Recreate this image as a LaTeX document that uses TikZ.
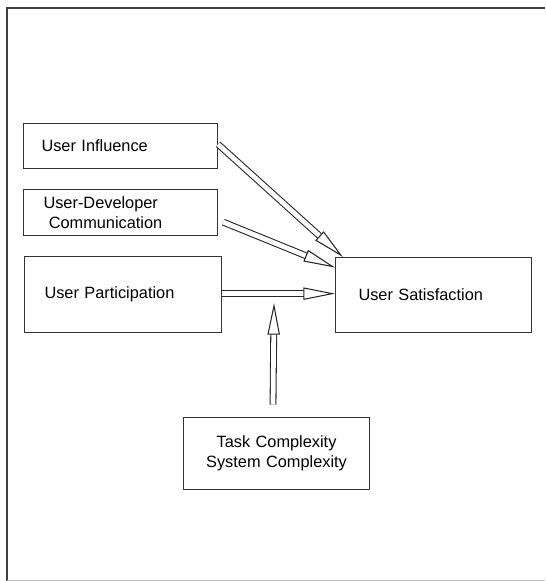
\documentclass[tikz,border=0pt]{standalone}
\usepackage{fontspec}
\setmainfont{Liberation Sans}
\usetikzlibrary{arrows.meta}

\begin{document}
\begin{tikzpicture}[x=0.02cm,y=-0.02cm,
	font=\fontsize{9.3}{11.5}\selectfont,
	factor/.style={draw=black!80,line width=0.6pt,anchor=north west,align=left,inner ysep=0pt},
	hollow/.style={draw=black!85,line width=0.6pt,double=white,double distance=2.7pt,
		-{Triangle[open,fill=white,length=18pt,width=7pt]}}]
  \useasboundingbox (0,0) rectangle (545,581);
  % page frame
  \draw[black!75,line width=0.7pt] (7,581) -- (7,8) -- (545,8);
  \draw[black!25,line width=0.5pt] (7,580) -- (545,580);

  % boxes
  \node[factor,minimum width=194*0.02cm,minimum height=45*0.02cm,
	text width=158*0.02cm,inner xsep=18*0.02cm] (inf) at (23,123) {User Influence};
  \node[factor,minimum width=194*0.02cm,minimum height=46*0.02cm,
	text width=154*0.02cm,inner xsep=20*0.02cm] (udc) at (23,189)
	{User-Developer\\\hspace*{3pt}Communication};
  \node[factor,minimum width=197*0.02cm,minimum height=76*0.02cm,
	text width=157*0.02cm,inner xsep=20*0.02cm] (part) at (24,256) {User Participation};
  \node[factor,minimum width=196*0.02cm,minimum height=75*0.02cm,
	text width=150*0.02cm,inner xsep=23*0.02cm] (sat) at (335,257) {User Satisfaction};
  \node[factor,align=center,minimum width=186*0.02cm,minimum height=72*0.02cm,
	text width=170*0.02cm,inner xsep=8*0.02cm] (task) at (183,417)
	{Task Complexity\\System Complexity};

  % links
  \coordinate (modtip) at (274,303);
  \draw[hollow] ([yshift=1pt]inf.east) -- ([xshift=4.5pt]sat.north west);
  \draw[hollow] ([xshift=3pt,yshift=-5.5pt]udc.east) -- ([yshift=-6pt]sat.north west);
  \draw[hollow] ([yshift=0.5pt]part.east) -- ([yshift=0.5pt]part.east -| sat.west);
  \draw[hollow] ([xshift=-2pt,yshift=7pt]task.north) -- (modtip);
\end{tikzpicture}
\end{document}
